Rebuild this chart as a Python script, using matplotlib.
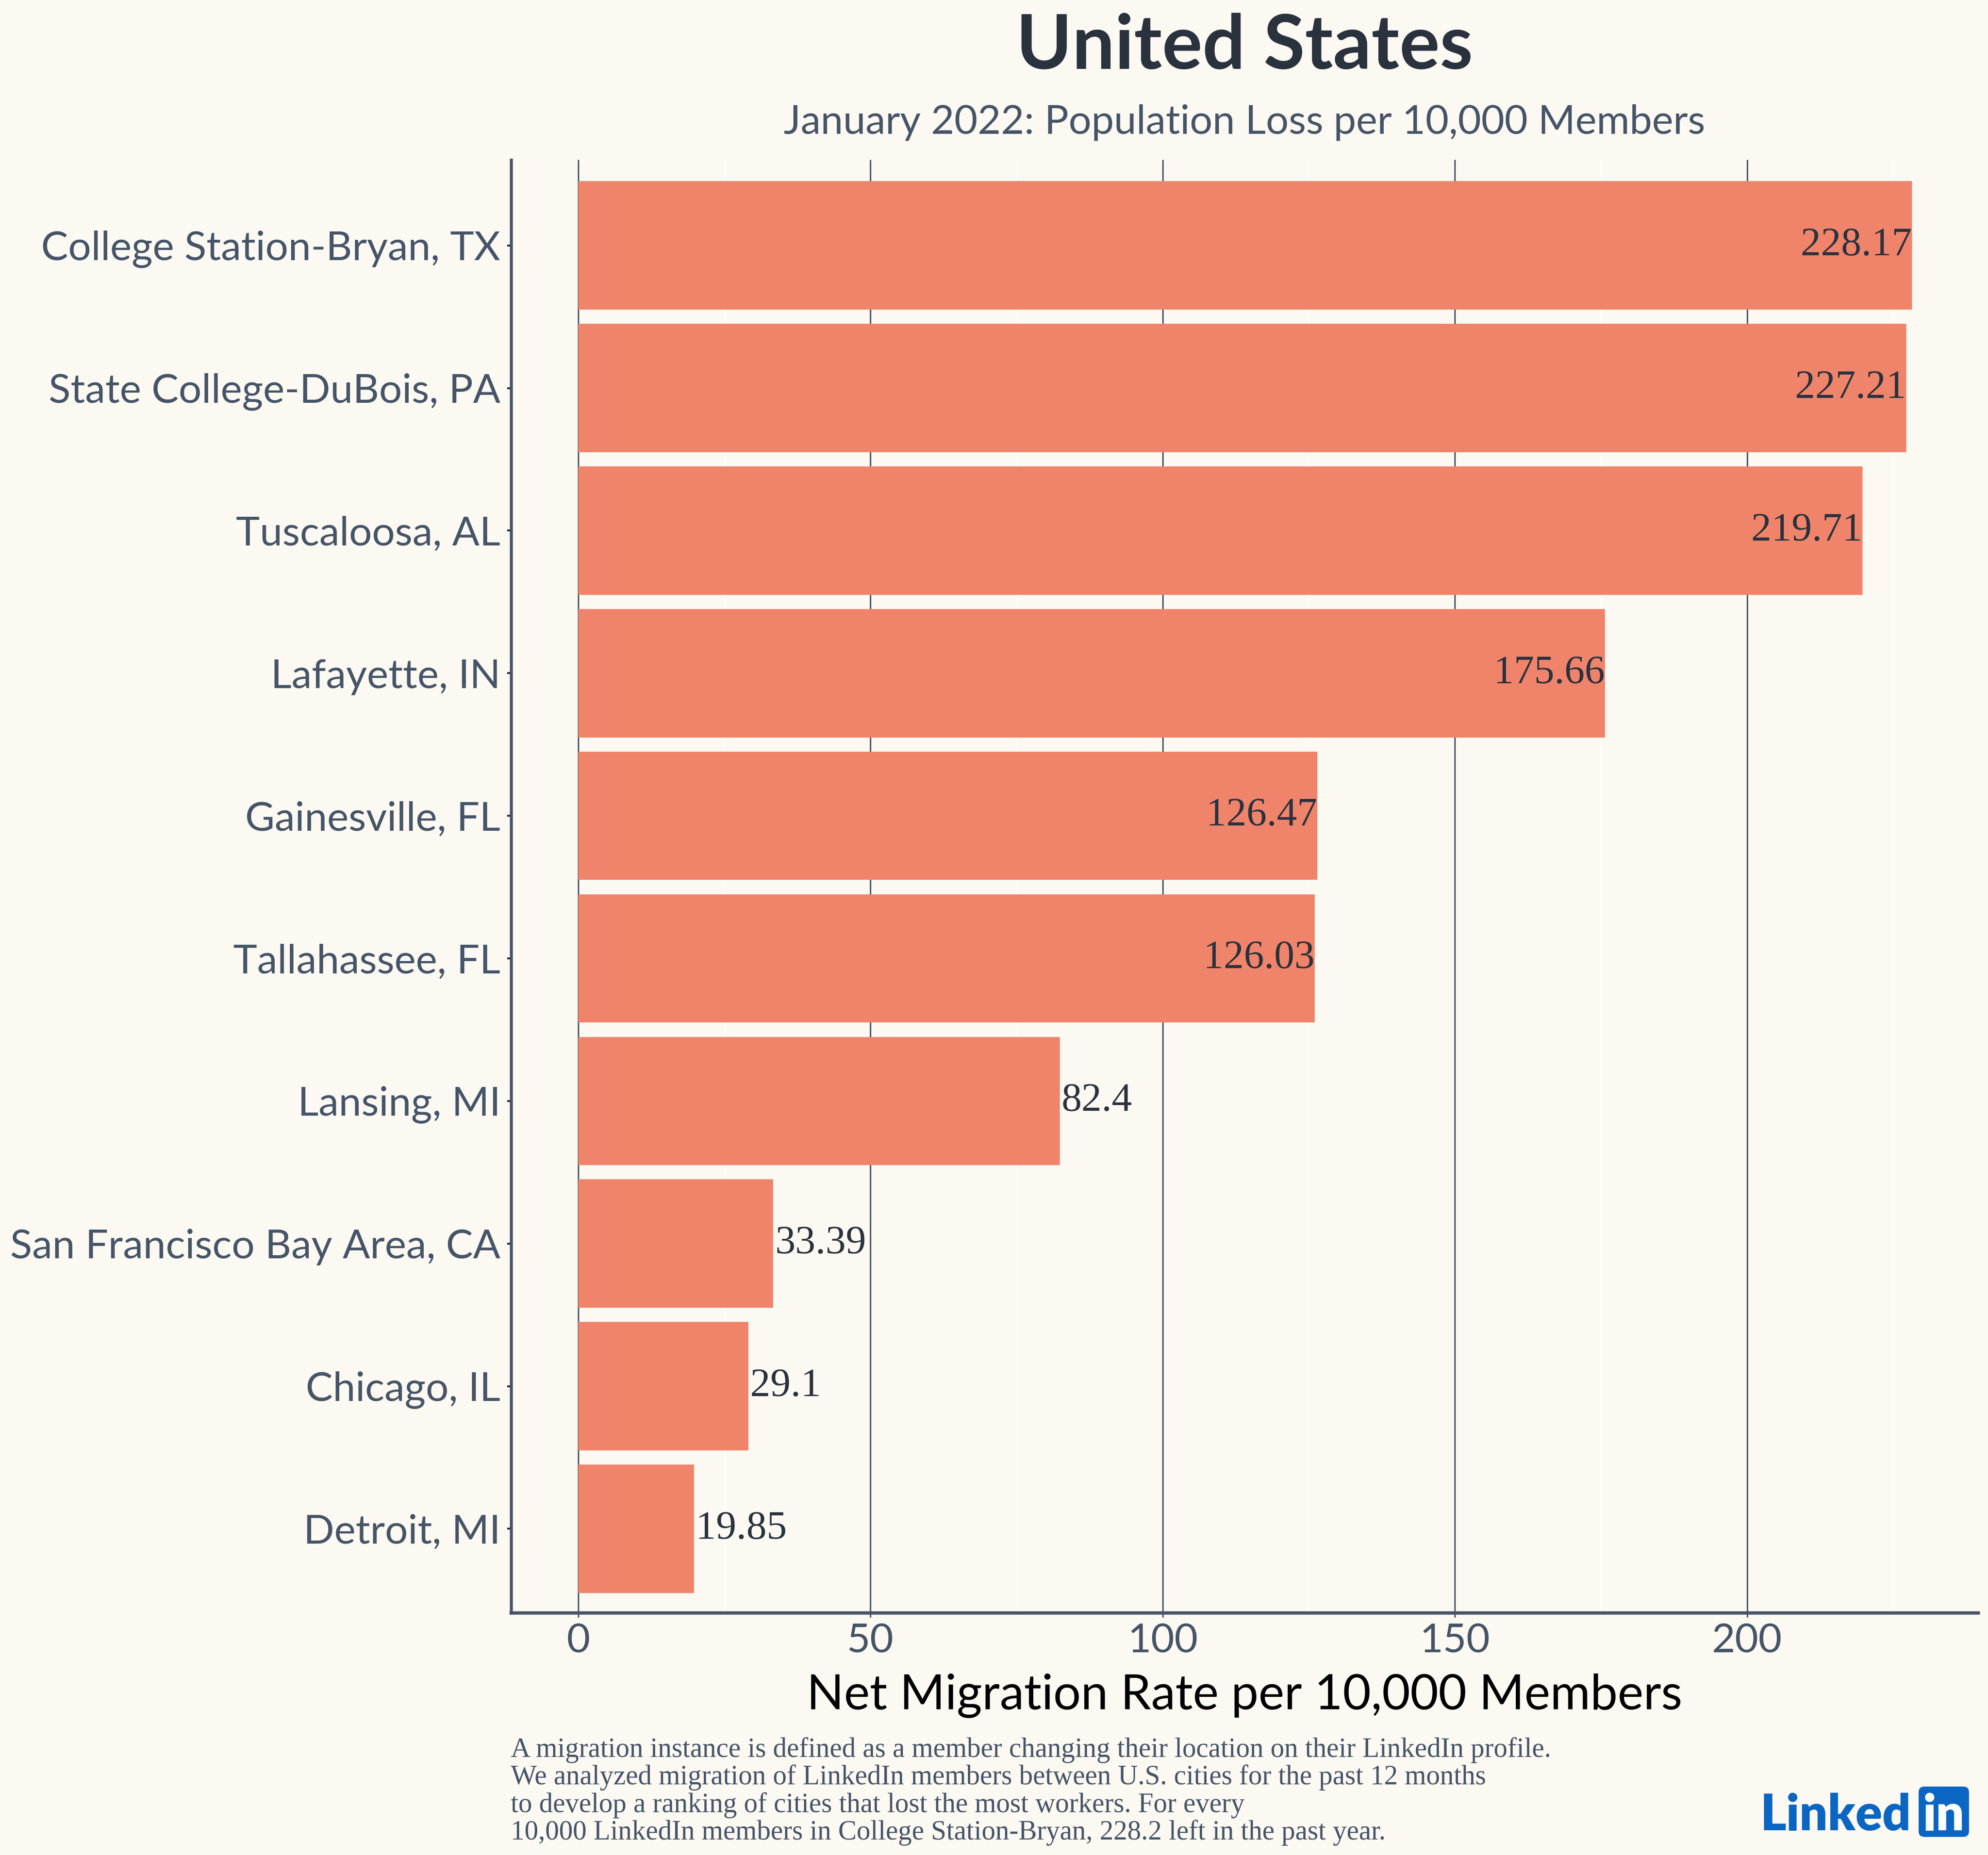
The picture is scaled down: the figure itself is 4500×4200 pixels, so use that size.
import matplotlib.pyplot as plt
from matplotlib.patches import FancyBboxPatch
from matplotlib.ticker import MultipleLocator

cities = ['College Station-Bryan, TX', 'State College-DuBois, PA', 'Tuscaloosa, AL',
          'Lafayette, IN', 'Gainesville, FL', 'Tallahassee, FL', 'Lansing, MI',
          'San Francisco Bay Area, CA', 'Chicago, IL', 'Detroit, MI']
rates = [228.17, 227.21, 219.71, 175.66, 126.47, 126.03, 82.4, 33.39, 29.1, 19.85]
rate_labels = ['228.17', '227.21', '219.71', '175.66', '126.47', '126.03', '82.4', '33.39', '29.1', '19.85']
x_ticks = [0, 50, 100, 150, 200]

title = 'United States'
subtitle = 'January 2022: Population Loss per 10,000 Members'
x_title = 'Net Migration Rate per 10,000 Members'
footnote = ['A migration instance is defined as a member changing their location on their LinkedIn profile.',
            'We analyzed migration of LinkedIn members between U.S. cities for the past 12 months',
            'to develop a ranking of cities that lost the most workers. For every',
            '10,000 LinkedIn members in College Station-Bryan, 228.2 left in the past year.']

BG = '#fcf9f2'
BAR = '#f0846b'
SLATE = '#465467'
DARK = '#2a323e'
BLUE = '#0a66c2'
SANS = ['Lato', 'DejaVu Sans']
SERIF = ['Liberation Serif', 'DejaVu Serif']

fig = plt.figure(figsize=(15, 14), dpi=300, facecolor=BG)
ax = fig.add_axes([0.257, 0.1305, 0.738, 0.7833])
ax.set_facecolor(BG)

pos = list(range(len(cities)))
ax.barh(pos, rates, height=0.9, color=BAR, zorder=3)

# big bars get the number inside, short ones right after the bar
for y, v, lab in zip(pos, rates, rate_labels):
    if v > 100:
        ax.text(v, y, lab, ha='right', va='center', fontsize=22, color=DARK,
                family=SERIF, zorder=4)
    else:
        ax.text(v + 0.3, y, lab, ha='left', va='center', fontsize=22, color=DARK,
                family=SERIF, zorder=4)

ax.set_xlim(-11.5, 239.5)
ax.set_ylim(9.59, -0.6)
ax.set_yticks(pos)
ax.set_yticklabels(cities, family=SANS, fontsize=22, color=SLATE)
ax.set_xticks(x_ticks)
ax.set_xticklabels([str(t) for t in x_ticks], family=SANS, fontsize=22, color=SLATE)
ax.xaxis.set_minor_locator(MultipleLocator(25))

ax.grid(axis='x', which='major', color=SLATE, linewidth=0.8, zorder=1)
ax.grid(axis='x', which='minor', color='white', linewidth=0.6, zorder=1)
ax.tick_params(axis='y', length=2.2, width=1, color='#1e242c', pad=3.5)
ax.tick_params(axis='x', which='major', length=2.5, width=0.8, color=SLATE, pad=3)
ax.tick_params(axis='x', which='minor', length=0)

for side in ['top', 'right']:
    ax.spines[side].set_visible(False)
ax.spines['left'].set_color(SLATE)
ax.spines['left'].set_linewidth(1.6)
ax.spines['bottom'].set_color(SLATE)
ax.spines['bottom'].set_linewidth(1.8)

cx = 0.257 + 0.738 / 2
fig.text(cx, 0.9629, title, ha='center', va='baseline', fontsize=41, fontweight='bold',
         color=DARK, family=SANS)
fig.text(cx, 0.9279, subtitle, ha='center', va='baseline', fontsize=21.8, color=SLATE,
         family=SANS)
fig.text(cx, 0.0786, x_title, ha='center', va='baseline', fontsize=26.5, color='black',
         family=SANS)

for i, line in enumerate(footnote):
    fig.text(0.257, 1 - (3978 + i * 62.3) / 4200, line, ha='left', va='baseline',
             fontsize=15, color=SLATE, family=SERIF)

# LinkedIn logo
fig.text(0.9611, 1 - 4144 / 4200, 'Linked', ha='right', va='baseline', fontsize=27,
         fontweight='heavy', color=BLUE, family=SANS)
box = FancyBboxPatch((0.9651, 1 - 4159 / 4200), 0.02533, 0.02714,
                     boxstyle='round,pad=0,rounding_size=0.003', transform=fig.transFigure,
                     facecolor=BLUE, edgecolor='none')
fig.patches.append(box)
fig.text(0.9776, 1 - 4144 / 4200, 'in', ha='center', va='baseline', fontsize=27,
         fontweight='heavy', color='white', family=SANS)

fig.savefig('out.png', dpi=300, facecolor=BG)
